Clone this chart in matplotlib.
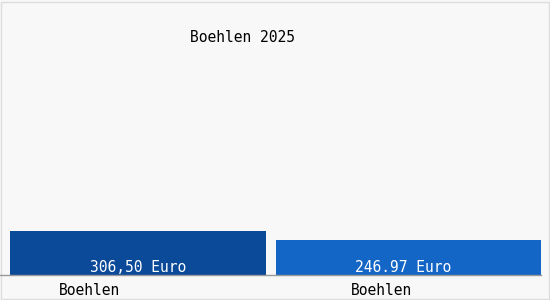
import matplotlib.pyplot as plt
from matplotlib.patches import Rectangle

# Daten
orte = ["Boehlen", "Boehlen"]
werte = [306.50, 246.97]
wert_labels = ["306,50 Euro", "246.97 Euro"]
titel = "Boehlen 2025"

farben = ["#0a4a99", "#1466c6"]
mono = "DejaVu Sans Mono"

fig = plt.figure(figsize=(5.5, 3.0), dpi=100, facecolor="#f8f8f8")
fig.patches.append(Rectangle((0.002, 0.003), 0.996, 0.992, transform=fig.transFigure,
                             fill=False, edgecolor="#dddddd", linewidth=1))

# Achse: links 10px, rechts 541px, Basislinie bei 275px
ax = fig.add_axes([10 / 550, 25 / 300, 531 / 550, 270 / 300])
ax.set_facecolor("#f8f8f8")
ax.patch.set_alpha(0)

x = [0, 1]
ax.bar(x, werte, width=[0.964, 1.0], align="edge", color=farben, linewidth=0)
ax.set_xlim(0, 2)
ax.set_ylim(0, 270 * werte[0] / 44)

for xi, w, lab in zip(x, werte, wert_labels):
    ax.text(xi + 0.482, 0, lab, ha="center", va="bottom", color="white",
            fontsize=10.5, family=mono)

ax.set_xticks([0.3, 1.4])
ax.set_xticklabels(orte, family=mono, fontsize=10.5)
ax.tick_params(axis="x", length=0, pad=6)
ax.set_yticks([])
for s in ax.spines.values():
    s.set_visible(False)

# Basislinie über die ganze Breite
fig.add_artist(plt.Line2D([0, 541 / 550], [25 / 300, 25 / 300], color="#999999", linewidth=1))

fig.text(243 / 550, 1 - 38 / 300, titel, ha="center", va="center",
         fontsize=10.5, family=mono, color="black")

fig.savefig("out.png", dpi=100, facecolor=fig.get_facecolor())
